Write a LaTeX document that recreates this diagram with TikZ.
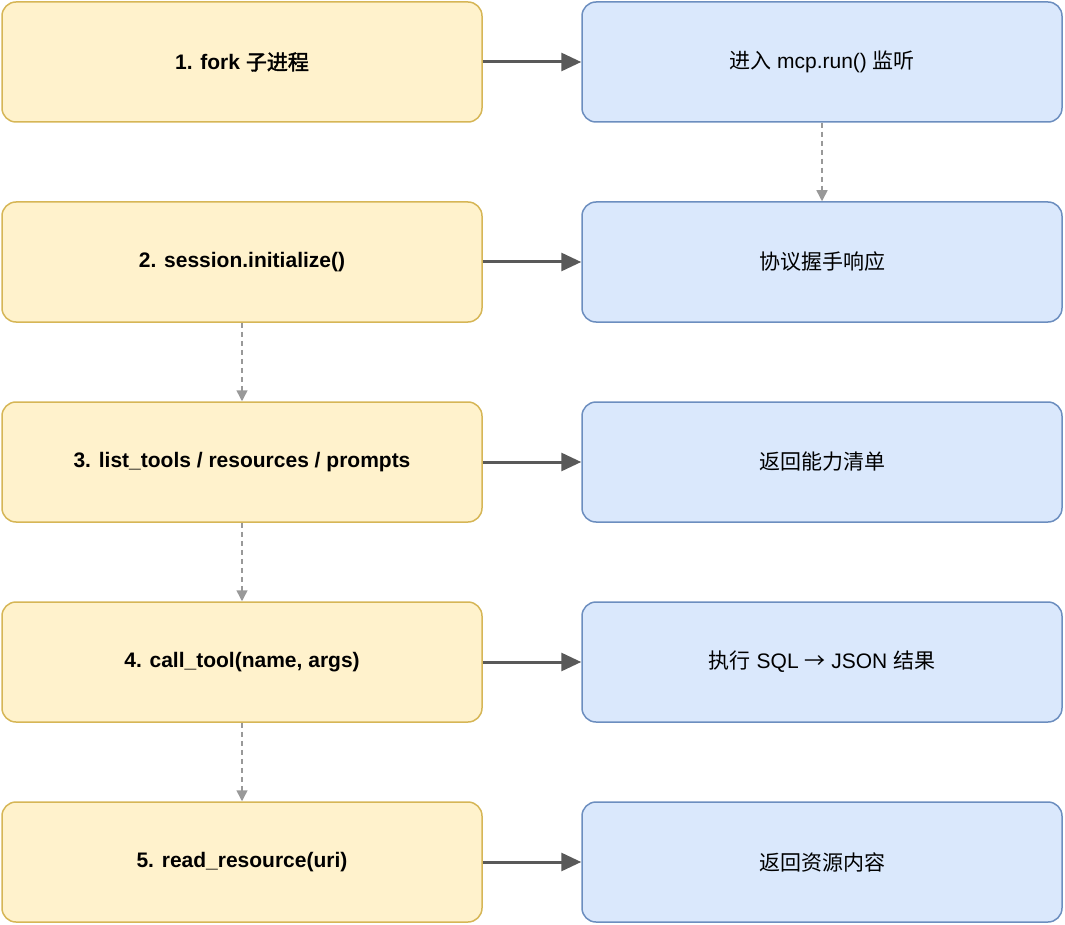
\documentclass[tikz,border=0pt]{standalone}
\usepackage{fontspec}
\setmainfont{Liberation Sans}
\newfontfamily\cjk[AutoFakeBold=2]{Noto Sans CJK SC}
\usetikzlibrary{arrows.meta}
\begin{document}
\begin{tikzpicture}[x=1pt,y=-1pt,
  box/.style={draw,line width=1.5pt,rounded corners=14pt,minimum width=480pt,minimum height=120pt,inner sep=0pt,font=\fontsize{21}{25}\selectfont},
  yb/.style={box,fill={rgb,255:red,255;green,242;blue,204},draw={rgb,255:red,214;green,182;blue,86},font=\fontsize{21}{25}\selectfont\bfseries},
  bb/.style={box,fill={rgb,255:red,218;green,232;blue,252},draw={rgb,255:red,108;green,142;blue,191}},
  sol/.style={draw={rgb,255:red,89;green,89;blue,89},line width=3pt,-{Triangle[length=20pt,width=18pt]}},
  das/.style={draw={rgb,255:red,153;green,153;blue,153},line width=1.5pt,dash pattern=on 5pt off 4pt,-{Triangle[length=11pt,width=11pt]}}]
\useasboundingbox (0,0) rectangle (1065,925);
\node[yb] (l1) at (242,62) {1. fork {\cjk 子进程}};
\node[yb] (l2) at (242,262) {2. session.initialize()};
\node[yb] (l3) at (242,462) {3. list\_tools / resources / prompts};
\node[yb] (l4) at (242,662) {4. call\_tool(name, args)};
\node[yb] (l5) at (242,862) {5. read\_resource(uri)};
\node[bb] (r1) at (822,62) {{\cjk 进入} mcp.run() {\cjk 监听}};
\node[bb] (r2) at (822,262) {\cjk 协议握手响应};
\node[bb] (r3) at (822,462) {\cjk 返回能力清单};
\node[bb] (r4) at (822,662) {{\cjk 执行} SQL {\cjk →} JSON {\cjk 结果}};
\node[bb] (r5) at (822,862) {\cjk 返回资源内容};
\foreach \i in {1,...,5} \draw[sol] (l\i) -- (r\i);
\draw[das] (r1) -- (r2);
\draw[das] (l2) -- (l3);
\draw[das] (l3) -- (l4);
\draw[das] (l4) -- (l5);
\end{tikzpicture}
\end{document}
